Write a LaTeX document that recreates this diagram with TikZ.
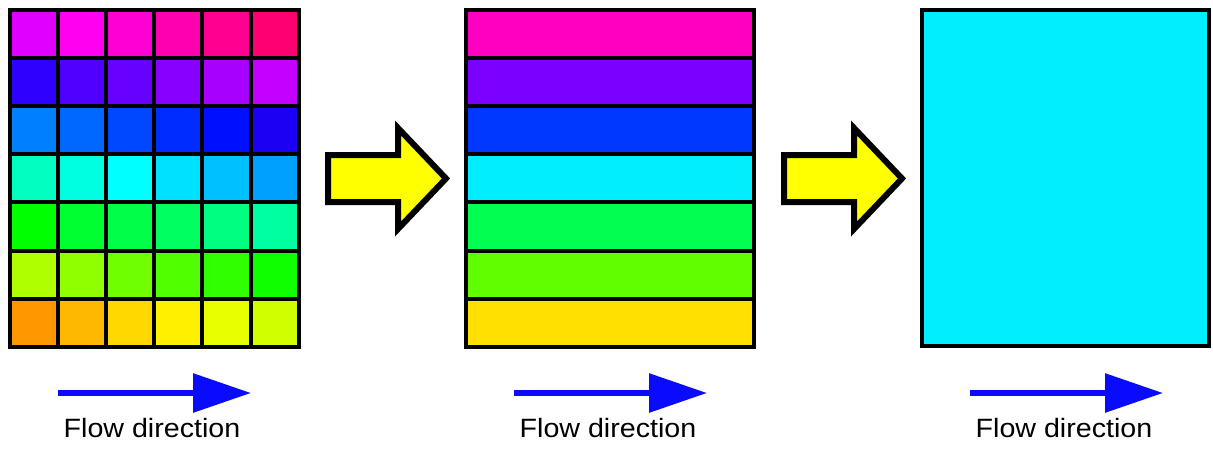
\documentclass[tikz,border=0pt]{standalone}
\usepackage{fontspec}
\setmainfont{Liberation Sans}
\usetikzlibrary{arrows.meta}
\definecolor{flowblue}{HTML}{0A0AFF}
\definecolor{arrowyellow}{HTML}{FFFF00}
\definecolor{cyanblock}{HTML}{00EEFF}
\tikzset{
  gridline/.style={line width=4pt, line cap=rect},
  bigarrow/.style={line width=6pt, fill=arrowyellow, draw=black, line join=miter},
  flow/.style={line width=6pt, draw=flowblue, -{Triangle[length=58pt,width=38pt]}},
  lbl/.style={font=\fontsize{26.5}{30}\selectfont, anchor=base, inner sep=0pt},
}
\newcommand{\flowtext}{\scalebox{1.08}[1]{Flow direction}}
\begin{document}
\begin{tikzpicture}[x=1pt,y=-1pt]
\useasboundingbox (0,0) rectangle (1213,448);
% ---------- panel 1: colour grid ----------
\def\cw{48.1}
\def\ch{48.1}
\foreach \rowlist [count=\r from 0] in {
 {E000FF,FF00F0,FF00D4,FF00B0,FF0090,FF0070},
 {3000FF,5000FF,6800FF,8800FF,A800FF,C400FF},
 {0080FF,0068FF,0048FF,002CFF,0010FF,1C00F4},
 {00FFC0,00FFE0,00FFFF,00E0FF,00C0FF,00A0FF},
 {00FF00,00FF30,00FF48,00FF60,00FF80,00FFA0},
 {B0FF00,90FF00,70FF00,50FF00,30FF00,10FF00},
 {FF9800,FFB800,FFD800,FFF000,E8FF00,D0FF00}} {
  \foreach \hex [count=\c from 0] in \rowlist {
    \definecolor{cellcol}{HTML}{\hex}
    \fill[cellcol] ({10+\c*\cw},{10+\r*\ch}) rectangle ++(\cw,\ch);
  }
}
\foreach \i in {0,...,6} \draw[gridline] ({10+\i*\cw},10) -- ({10+\i*\cw},{10+7*\ch});
\foreach \j in {0,...,7} \draw[gridline] (10,{10+\j*\ch}) -- ({10+6*\cw},{10+\j*\ch});
% ---------- panel 2: stripes ----------
\foreach \hex [count=\r from 0] in {FF00C0,7C00FF,0038FF,00EEFF,00FF50,60FF00,FFE000} {
  \definecolor{stripecol}{HTML}{\hex}
  \fill[stripecol] (466,{10+\r*\ch}) rectangle (754,{10+(\r+1)*\ch});
}
\foreach \j in {0,...,7} \draw[gridline] (466,{10+\j*\ch}) -- (754,{10+\j*\ch});
\draw[gridline] (466,10) -- (466,{10+7*\ch});
\draw[gridline] (754,10) -- (754,{10+7*\ch});
% ---------- panel 3: uniform block ----------
\draw[line width=4pt, fill=cyanblock] (922,10) rectangle (1209,346);
% ---------- yellow block arrows ----------
\foreach \dx in {0,456} {
  \draw[bigarrow] ({328+\dx},155) -- ({398+\dx},155) -- ({398+\dx},128) -- ({446+\dx},178.5)
     -- ({398+\dx},229) -- ({398+\dx},202) -- ({328+\dx},202) -- cycle;
}
% ---------- flow direction arrows ----------
\coordinate (f1s) at (58,393);  \coordinate (f1e) at (251,393);
\coordinate (f2s) at (514,393); \coordinate (f2e) at (707,393);
\coordinate (f3s) at (970,393); \coordinate (f3e) at (1163,393);
\draw[flow] (f1s) -- (f1e);
\draw[flow] (f2s) -- (f2e);
\draw[flow] (f3s) -- (f3e);
\node[lbl] (t1) at (152,437.5) {\flowtext};
\node[lbl] (t2) at (608,437.5) {\flowtext};
\node[lbl] (t3) at (1064,437.5) {\flowtext};
\end{tikzpicture}
\end{document}
